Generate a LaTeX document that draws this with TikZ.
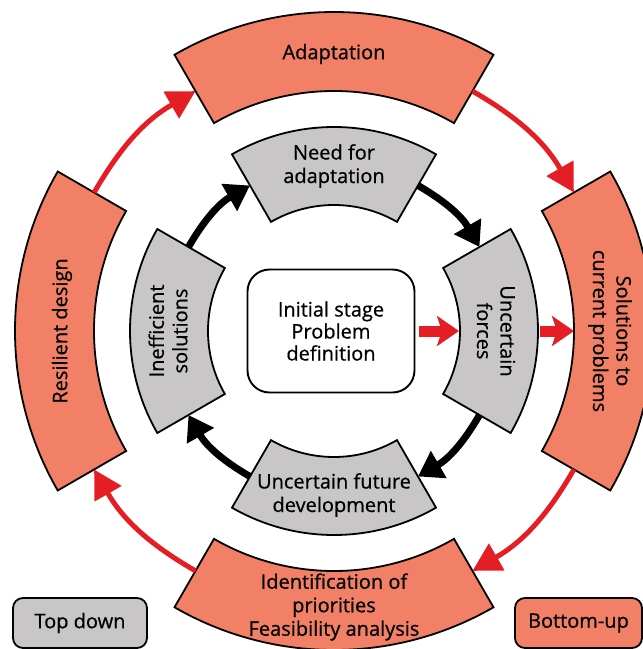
\documentclass[tikz,border=0pt]{standalone}
\usepackage{fontspec}
\setmainfont{Open Sans}[FakeBold=0.6]
\usetikzlibrary{arrows.meta}
\definecolor{salmon}{RGB}{241,128,102}
\definecolor{lgray}{RGB}{200,198,198}
\definecolor{arrred}{RGB}{228,30,36}
\newcommand\annsec[5]{\path[#5] (#1:#3) arc[start angle=#1,end angle=#2,radius=#3] -- (#2:#4) arc[start angle=#2,end angle=#1,radius=#4] -- cycle;}
\begin{document}
\begin{tikzpicture}[x=1pt,y=1pt,
  lbl/.style={align=center,font=\fontsize{20}{23.5}\selectfont,inner sep=0pt},
  outerseg/.style={draw=black,line width=1.8pt,fill=salmon},
  innerseg/.style={draw=black,line width=1.8pt,fill=lgray},
  redarr/.style={draw=arrred,line width=5pt,-{Triangle[length=28pt,width=30pt]}},
  blkarr/.style={draw=black,line width=7pt,-{Triangle[length=24pt,width=30pt]}},
  fatarr/.style={draw=arrred,line width=11pt,-{Stealth[length=22pt,width=30pt,inset=5pt]}},
  legendbox/.style={draw=black,line width=1.8pt,rounded corners=10pt,minimum height=50pt,align=center,font=\fontsize{20}{23.5}\selectfont}
]
\useasboundingbox (-334,-318) rectangle (309,331);
% outer ring
\annsec{60}{120}{240pt}{319pt}{outerseg}
\annsec{-30}{30}{240pt}{319pt}{outerseg}
\annsec{240}{300}{240pt}{319pt}{outerseg}
\annsec{150}{210}{240pt}{319pt}{outerseg}
% inner ring
\annsec{60}{120}{126pt}{204pt}{innerseg}
\annsec{-30}{30}{126pt}{204pt}{innerseg}
\annsec{240}{300}{126pt}{204pt}{innerseg}
\annsec{150}{210}{126pt}{204pt}{innerseg}
% labels
\node[lbl] (adapt) at (90:277pt) {Adaptation};
\node[lbl,rotate=-90] (solut) at (0:276pt) {Solutions to\\current problems};
\node[lbl] (ident) at (270:276pt) {Identification of\\priorities\\Feasibility analysis};
\node[lbl,rotate=90] (resil) at (180:272pt) {Resilient design};
\node[lbl] (need) at (90:165pt) {Need for\\adaptation};
\node[lbl,rotate=-90] (uforces) at (0:162pt) {Uncertain\\forces};
\node[lbl] (ufut) at (270:164pt) {Uncertain future\\development};
\node[lbl,rotate=90] (ineff) at (180:166pt) {Inefficient\\solutions};
% center box
\node[draw,line width=1.9pt,rounded corners=22pt,minimum width=167pt,minimum height=123pt,align=center,font=\fontsize{20}{22}\selectfont] (init) at (-3,0) {Initial stage\\Problem\\definition};
% legend
\node[legendbox,fill=lgray,minimum width=134pt] (td) at (-254,-292) {Top down};
\node[legendbox,fill=salmon,minimum width=127pt] (bu) at (244.5,-292) {Bottom-up};
% connector coordinates
\coordinate (o1) at (60:277pt);
\coordinate (o2) at (30:277pt);
\coordinate (o3) at (-30:277pt);
\coordinate (o4) at (-60:277pt);
\coordinate (o5) at (240:277pt);
\coordinate (o6) at (210:277pt);
\coordinate (o7) at (150:277pt);
\coordinate (o8) at (120:277pt);
\coordinate (i1) at (60:168pt);
\coordinate (i2) at (30:168pt);
\coordinate (i3) at (-30:168pt);
\coordinate (i4) at (-60:168pt);
\coordinate (i5) at (240:168pt);
\coordinate (i6) at (210:168pt);
\coordinate (i7) at (150:168pt);
\coordinate (i8) at (120:168pt);
\coordinate (fin) at (0:125pt);
\coordinate (fout) at (0:205pt);
\coordinate (sin) at (0:240pt);
% outer arrows
\draw[redarr] (o1) to[bend left=15] (o2);
\draw[redarr] (o3) to[bend left=15] (o4);
\draw[redarr] (o5) to[bend left=15] (o6);
\draw[redarr] (o7) to[bend left=15] (o8);
% inner arrows
\draw[blkarr] (i1) to[bend left=15] (i2);
\draw[blkarr] (i3) to[bend left=15] (i4);
\draw[blkarr] (i5) to[bend left=15] (i6);
\draw[blkarr] (i7) to[bend left=15] (i8);
% fat red arrows
\draw[fatarr,shorten <=4pt] (init.east) -- (fin);
\draw[fatarr,shorten <=1pt] (fout) -- (sin);
\end{tikzpicture}
\end{document}
